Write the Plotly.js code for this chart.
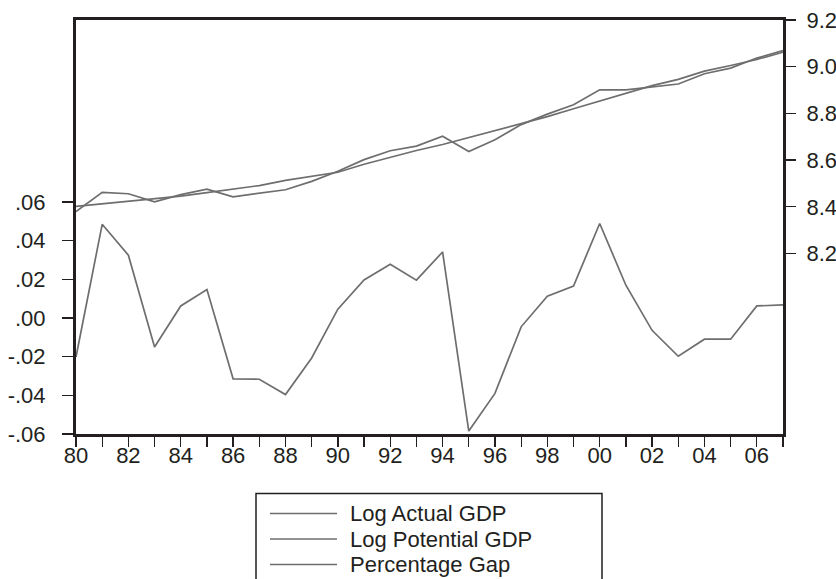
<!DOCTYPE html>
<html>
<head>
<meta charset="utf-8">
<script src="https://cdn.plot.ly/plotly-3.0.1.min.js"></script>
<style>
  html, body { margin: 0; padding: 0; background: #fff; }
  #chart { width: 836px; height: 579px; }
</style>
</head>
<body>
<div id="chart"></div>
<script>
// Years 1980..2007
var years = [1980,1981,1982,1983,1984,1985,1986,1987,1988,1989,1990,1991,1992,1993,
             1994,1995,1996,1997,1998,1999,2000,2001,2002,2003,2004,2005,2006,2007];

// Log actual GDP (right axis)
var logActual = [8.380,8.462,8.456,8.421,8.452,8.476,8.443,8.459,8.473,8.509,8.552,8.602,8.640,8.660,
                 8.702,8.637,8.687,8.752,8.797,8.837,8.901,8.901,8.913,8.926,8.970,8.994,9.037,9.069];

// Log potential GDP (right axis)
var logPotential = [8.402,8.413,8.424,8.436,8.446,8.461,8.475,8.491,8.513,8.530,8.548,8.582,8.612,8.641,
                    8.667,8.696,8.726,8.757,8.786,8.820,8.852,8.884,8.919,8.946,8.981,9.005,9.031,9.062];

// Percentage gap (left axis)
var pctGap = [-0.0202,0.0484,0.0324,-0.0150,0.0062,0.0147,-0.0315,-0.0317,-0.0396,-0.0207,0.0045,0.0196,0.0277,0.0195,
              0.0341,-0.0585,-0.0390,-0.0046,0.0112,0.0165,0.0488,0.0169,-0.0064,-0.0198,-0.0110,-0.0110,0.0062,0.0067];

var seriesNames = ['Log Actual GDP', 'Log Potential GDP', 'Percentage Gap'];

var xTickVals = years;
var xTickText = years.map(function (y) { return (y % 2 === 0) ? String(y).slice(2) : ''; });

var leftTickVals = [-0.06,-0.04,-0.02,0.00,0.02,0.04,0.06];
var leftTickText = ['-.06','-.04','-.02','.00','.02','.04','.06'];

var rightTickVals = [8.2,8.4,8.6,8.8,9.0,9.2];
var rightTickText = ['8.2','8.4','8.6','8.8','9.0','9.2'];

var lineColor = '#6e6e6e';
var axisColor = '#231f20';
var fontFam = '"Liberation Sans", Arial, sans-serif';
var fs = 22;

var traces = [
  { x: years, y: logActual, name: seriesNames[0], type: 'scatter', mode: 'lines',
    yaxis: 'y2', line: { color: lineColor, width: 1.7 } },
  { x: years, y: logPotential, name: seriesNames[1], type: 'scatter', mode: 'lines',
    yaxis: 'y2', line: { color: lineColor, width: 1.7 } },
  { x: years, y: pctGap, name: seriesNames[2], type: 'scatter', mode: 'lines',
    yaxis: 'y', line: { color: lineColor, width: 1.7 } }
];

var plotL = 76, plotR = 53, plotT = 20, plotB = 145;
var plotW = 836 - plotL - plotR, plotH = 579 - plotT - plotB;
function px2x(p) { return (p - plotL) / plotW; }
function px2y(p) { return (579 - plotB - p) / plotH; }

// Legend drawn as a framed key under the plot
var legendRows = [513.5, 539, 564.5];
var shapes = [
  { type: 'rect', xref: 'paper', yref: 'paper',
    x0: px2x(256), x1: px2x(602), y0: px2y(620), y1: px2y(493.5),
    line: { color: axisColor, width: 1.5 }, fillcolor: 'rgba(0,0,0,0)' }
];
var annotations = [];
seriesNames.forEach(function (nm, i) {
  shapes.push({ type: 'line', xref: 'paper', yref: 'paper',
    x0: px2x(270), x1: px2x(337), y0: px2y(legendRows[i]), y1: px2y(legendRows[i]),
    line: { color: lineColor, width: 1.5 } });
  annotations.push({ xref: 'paper', yref: 'paper', x: px2x(348), y: px2y(legendRows[i]),
    xanchor: 'left', yanchor: 'middle', text: nm, showarrow: false,
    font: { family: fontFam, size: fs, color: axisColor } });
});

var layout = {
  width: 836, height: 579,
  margin: { l: plotL, r: plotR, t: plotT, b: plotB, autoexpand: false },
  paper_bgcolor: '#ffffff', plot_bgcolor: '#ffffff',
  font: { family: fontFam, size: fs, color: axisColor },
  showlegend: false,
  xaxis: {
    range: [1980, 2007], showgrid: false, zeroline: false,
    showline: true, linecolor: axisColor, linewidth: 3, mirror: true,
    ticks: 'outside', ticklen: 10, tickwidth: 1.3, tickcolor: axisColor,
    tickmode: 'array', tickvals: xTickVals, ticktext: xTickText,
    ticklabelstandoff: -10,
    tickfont: { family: fontFam, size: fs, color: axisColor }
  },
  yaxis: {
    range: [-0.06, 0.154], showgrid: false, zeroline: false,
    showline: true, linecolor: axisColor, linewidth: 3,
    ticks: 'outside', ticklen: 11, tickwidth: 1.3, tickcolor: axisColor,
    tickmode: 'array', tickvals: leftTickVals, ticktext: leftTickText,
    ticklabelstandoff: 12,
    tickfont: { family: fontFam, size: fs, color: axisColor }
  },
  yaxis2: {
    overlaying: 'y', side: 'right',
    range: [7.427, 9.2], showgrid: false, zeroline: false,
    showline: true, linecolor: axisColor, linewidth: 3,
    ticks: 'outside', ticklen: 10, tickwidth: 1.3, tickcolor: axisColor,
    tickmode: 'array', tickvals: rightTickVals, ticktext: rightTickText,
    ticklabelstandoff: 6,
    tickfont: { family: fontFam, size: fs, color: axisColor }
  },
  shapes: shapes,
  annotations: annotations
};

Plotly.newPlot('chart', traces, layout, { staticPlot: true, displayModeBar: false });
</script>
</body>
</html>
